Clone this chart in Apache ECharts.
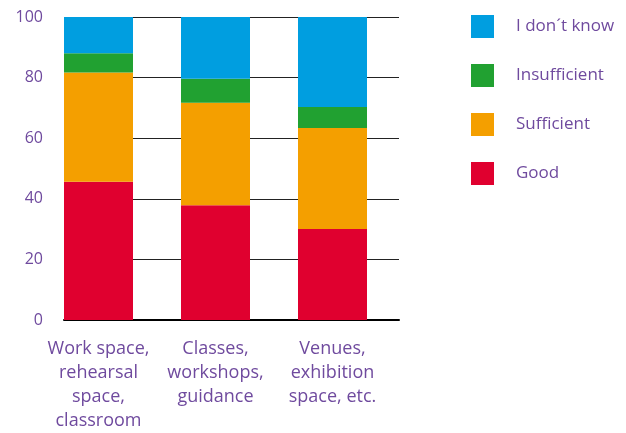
<!DOCTYPE html>
<html>
<head>
<meta charset="utf-8">
<script src="https://cdn.jsdelivr.net/npm/echarts@6/dist/echarts.min.js"></script>
<style>
  html, body { margin: 0; padding: 0; background: #fff; }
  #chart { width: 626px; height: 433px; }
</style>
</head>
<body>
<div id="chart"></div>
<script>
// Assessment of facilities, share of respondents (%)
const categories = [
  'Work space,\nrehearsal\nspace,\nclassroom',
  'Classes,\nworkshops,\nguidance',
  'Venues,\nexhibition\nspace, etc.'
];
const good = [45.6, 37.9, 30.0];
const sufficient = [36.1, 33.8, 33.4];
const insufficient = [6.3, 7.9, 6.9];
const dontKnow = [12.0, 20.4, 29.7];
const yTicks = [0, 20, 40, 60, 80, 100];

const purple = '#6f4a9e';
const font = '"Open Sans"';

const chart = echarts.init(document.getElementById('chart'), null, { renderer: 'canvas' });

function bar(name, data, color) {
  return {
    name, type: 'bar', stack: 'total', data,
    xAxisIndex: 0, yAxisIndex: 0,
    barWidth: 69,
    itemStyle: { color },
    emphasis: { disabled: true }
  };
}

chart.setOption({
  animation: false,
  textStyle: { fontFamily: font },
  legend: {
    data: ['I don´t know', 'Insufficient', 'Sufficient', 'Good'],
    orient: 'vertical',
    left: 466, top: 10,
    itemWidth: 23, itemHeight: 23, itemGap: 26,
    icon: 'rect',
    selectedMode: false,
    textStyle: { color: purple, fontSize: 17, fontFamily: font, padding: [0, 0, 0, 17] }
  },
  grid: [
    // bars and category labels
    { left: 40, right: 235, top: 17, bottom: 113 },
    // value scale, gridlines and baseline
    { left: 64, right: 227, top: 17, bottom: 113 }
  ],
  xAxis: [
    {
      type: 'category', gridIndex: 0, data: categories,
      axisLine: { show: false }, axisTick: { show: false },
      axisLabel: { color: purple, fontSize: 18, lineHeight: 24, margin: 17, interval: 0, fontFamily: font }
    },
    {
      type: 'value', gridIndex: 1, min: 0, max: 1,
      axisLine: { show: true, onZero: false, lineStyle: { color: '#000', width: 2 } },
      axisTick: { show: false }, axisLabel: { show: false }, splitLine: { show: false }
    }
  ],
  yAxis: [
    {
      type: 'value', gridIndex: 0, min: 0, max: 100, interval: 20,
      show: false, splitLine: { show: false }
    },
    {
      type: 'value', gridIndex: 1, min: yTicks[0], max: yTicks[yTicks.length - 1], interval: 20,
      axisLine: { show: false }, axisTick: { show: false },
      axisLabel: { color: purple, fontSize: 16, margin: 21, fontFamily: font },
      splitLine: { show: true, lineStyle: { color: '#222', width: 1 } },
      z: 0
    }
  ],
  series: [
    bar('Good', good, '#e0002f'),
    bar('Sufficient', sufficient, '#f49f00'),
    bar('Insufficient', insufficient, '#21a131'),
    bar('I don´t know', dontKnow, '#009ee0')
  ]
});
</script>
</body>
</html>
